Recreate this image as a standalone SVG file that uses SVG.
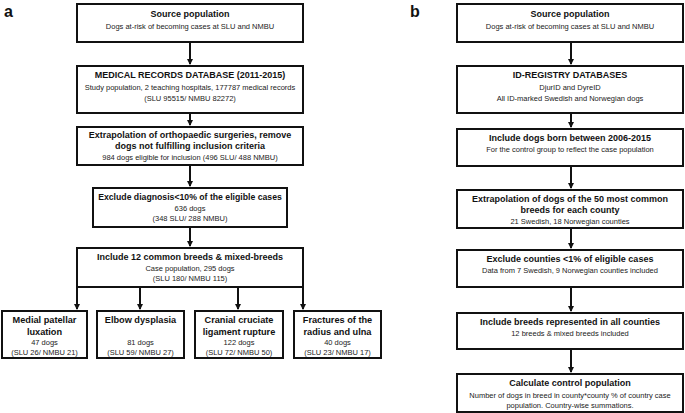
<svg xmlns="http://www.w3.org/2000/svg" width="685" height="413" viewBox="0 0 685 413">
<style>
.box{fill:#fff;stroke:#111;stroke-width:2}
.t{font-family:"Liberation Sans",Arial,sans-serif;font-weight:bold;font-size:9px;fill:#111;text-anchor:middle}
.tb{font-family:"Liberation Sans",Arial,sans-serif;font-weight:bold;font-size:9.2px;fill:#111;text-anchor:middle}
.s{font-family:"Liberation Sans",Arial,sans-serif;font-size:7.5px;fill:#222;text-anchor:middle}
.lbl{font-family:"Liberation Sans",Arial,sans-serif;font-weight:bold;font-size:16px;fill:#111}
.c{stroke:#111;stroke-width:2;fill:none;marker-end:url(#ah)}
</style>
<defs>
<marker id="ah" markerUnits="userSpaceOnUse" markerWidth="6" markerHeight="6" refX="5" refY="3" orient="auto">
<path d="M0,0 L6,3 L0,6 Z" fill="#111"/>
</marker>
</defs>
<text class="lbl" x="4" y="17">a</text>
<text class="lbl" x="410" y="17">b</text>
<g id="connectors">
<line class="c" x1="190" y1="42" x2="190" y2="64"/>
<line class="c" x1="190" y1="113" x2="190" y2="125"/>
<line class="c" x1="190" y1="165" x2="190" y2="186"/>
<line class="c" x1="190" y1="227" x2="190" y2="246"/>
<line class="c" x1="77" y1="287" x2="77" y2="309"/>
<line class="c" x1="140" y1="287" x2="140" y2="309"/>
<line class="c" x1="238" y1="287" x2="238" y2="309"/>
<line class="c" x1="303" y1="287" x2="303" y2="309"/>
<line class="c" x1="571" y1="42" x2="571" y2="64"/>
<line class="c" x1="571" y1="113" x2="571" y2="127"/>
<line class="c" x1="571" y1="166" x2="571" y2="188"/>
<line class="c" x1="571" y1="228" x2="571" y2="248"/>
<line class="c" x1="571" y1="287" x2="571" y2="311"/>
<line class="c" x1="571" y1="349" x2="571" y2="372"/>
</g>
<g id="a1"><rect class="box" x="77" y="4" width="226" height="38"/>
<text class="t" x="190" y="17">Source population</text>
<text class="s" x="190" y="29">Dogs at-risk of becoming cases at SLU and NMBU</text></g>
<g id="a2"><rect class="box" x="77" y="66" width="226" height="47"/>
<text class="t" x="190" y="78">MEDICAL RECORDS DATABASE (2011-2015)</text>
<text class="s" x="190" y="90">Study population, 2 teaching hospitals, 177787 medical records</text>
<text class="s" x="190" y="101">(SLU 95515/ NMBU 82272)</text></g>
<g id="a3"><rect class="box" x="77" y="127" width="226" height="38"/>
<text class="t" x="190" y="138">Extrapolation of orthopaedic surgeries, remove</text>
<text class="t" x="190" y="149">dogs not fulfilling inclusion criteria</text>
<text class="s" x="190" y="160">984 dogs eligible for inclusion (496 SLU/ 488 NMBU)</text></g>
<g id="a4"><rect class="box" x="93" y="188" width="194" height="39"/>
<text class="t" x="190" y="200" style="font-size:8.7px">Exclude diagnosis&lt;10% of the eligible cases</text>
<text class="s" x="190" y="211">636 dogs</text>
<text class="s" x="190" y="221">(348 SLU/ 288 NMBU)</text></g>
<g id="a5"><rect class="box" x="77" y="248" width="226" height="39"/>
<text class="t" x="190" y="260">Include 12 common breeds &amp; mixed-breeds</text>
<text class="s" x="190" y="271">Case population, 295 dogs</text>
<text class="s" x="190" y="281">(SLU 180/ NMBU 115)</text></g>
<g id="bA"><rect class="box" x="2" y="311" width="85" height="47"/>
<text class="tb" x="44.5" y="323">Medial patellar</text>
<text class="tb" x="44.5" y="335">luxation</text>
<text class="s" x="44.5" y="345">47 dogs</text>
<text class="s" x="44.5" y="355">(SLU 26/ NMBU 21)</text></g>
<g id="bB"><rect class="box" x="97" y="311" width="87" height="47"/>
<text class="tb" x="140.5" y="323">Elbow dysplasia</text>
<text class="s" x="140.5" y="345">81 dogs</text>
<text class="s" x="140.5" y="355">(SLU 59/ NMBU 27)</text></g>
<g id="bC"><rect class="box" x="195" y="311" width="88" height="47"/>
<text class="tb" x="239" y="323">Cranial cruciate</text>
<text class="tb" x="239" y="335">ligament rupture</text>
<text class="s" x="239" y="345">122 dogs</text>
<text class="s" x="239" y="355">(SLU 72/ NMBU 50)</text></g>
<g id="bD"><rect class="box" x="294" y="311" width="87" height="47"/>
<text class="tb" x="337.5" y="323">Fractures of the</text>
<text class="tb" x="337.5" y="335">radius and ulna</text>
<text class="s" x="337.5" y="345">40 dogs</text>
<text class="s" x="337.5" y="355">(SLU 23/ NMBU 17)</text></g>
<g id="b1"><rect class="box" x="457" y="4" width="226" height="38"/>
<text class="t" x="570" y="17">Source population</text>
<text class="s" x="570" y="29">Dogs at-risk of becoming cases at SLU and NMBU</text></g>
<g id="b2"><rect class="box" x="457" y="66" width="226" height="47"/>
<text class="t" x="570" y="78">ID-REGISTRY DATABASES</text>
<text class="s" x="570" y="90">DjurID and DyreID</text>
<text class="s" x="570" y="101">All ID-marked Swedish and Norwegian dogs</text></g>
<g id="b3"><rect class="box" x="457" y="129" width="226" height="37"/>
<text class="t" x="570" y="141">Include dogs born between 2006-2015</text>
<text class="s" x="570" y="152">For the control group to reflect the case population</text></g>
<g id="b4"><rect class="box" x="457" y="190" width="226" height="38"/>
<text class="t" x="570" y="202">Extrapolation of dogs of the 50 most common</text>
<text class="t" x="570" y="213">breeds for each county</text>
<text class="s" x="570" y="224">21 Swedish, 18 Norwegian counties</text></g>
<g id="b5"><rect class="box" x="457" y="250" width="226" height="37"/>
<text class="t" x="570" y="262">Exclude counties &lt;1% of eligible cases</text>
<text class="s" x="570" y="273">Data from 7 Swedish, 9 Norwegian counties included</text></g>
<g id="b6"><rect class="box" x="457" y="313" width="226" height="36"/>
<text class="t" x="570" y="325">Include breeds represented in all counties</text>
<text class="s" x="570" y="336">12 breeds &amp; mixed breeds included</text></g>
<g id="b7"><rect class="box" x="457" y="374" width="226" height="38"/>
<text class="t" x="570" y="386">Calculate control population</text>
<text class="s" x="570" y="398">Number of dogs in breed in county*county % of country case</text>
<text class="s" x="570" y="408">population. Country-wise summations.</text></g>
</svg>
